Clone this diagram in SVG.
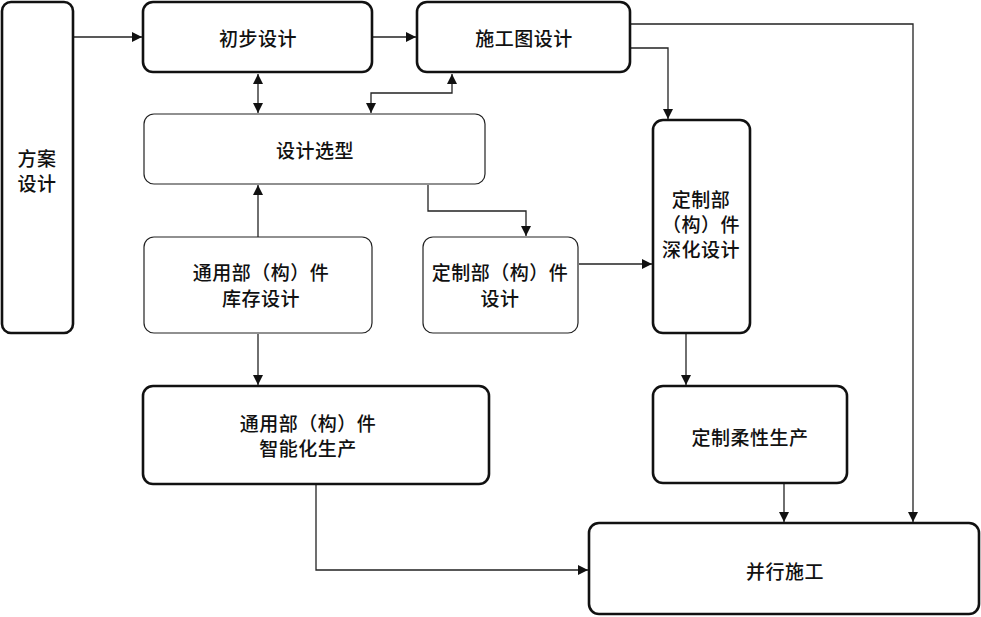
<svg xmlns="http://www.w3.org/2000/svg" width="981" height="617" viewBox="0 0 981 617">
<style>
.thick{fill:#fff;stroke:#111;stroke-width:2.6}
.thin{fill:#fff;stroke:#222;stroke-width:1.2}
.t{font-family:"Noto Sans CJK SC","Noto Sans",sans-serif;font-size:19px;font-weight:500;letter-spacing:0.5px;fill:#111;text-anchor:middle;dominant-baseline:central}
.c{fill:none;stroke:#222;stroke-width:1.3}
</style>
<defs>
<marker id="ah" viewBox="0 0 10 10" refX="10" refY="5" markerWidth="11" markerHeight="10" markerUnits="userSpaceOnUse" orient="auto-start-reverse">
<path d="M0,0 L10,5 L0,10 Z" fill="#111"/>
</marker>
</defs>
<g id="connectors">
<line class="c" x1="74" y1="37" x2="142" y2="37" marker-end="url(#ah)"/>
<line class="c" x1="373" y1="37" x2="416" y2="37" marker-end="url(#ah)"/>
<line class="c" x1="258" y1="74" x2="258" y2="113" marker-start="url(#ah)" marker-end="url(#ah)"/>
<polyline class="c" points="371,113 371,93 452,93 452,74" marker-start="url(#ah)" marker-end="url(#ah)"/>
<line class="c" x1="258" y1="237" x2="258" y2="185" marker-end="url(#ah)"/>
<polyline class="c" points="428,185 428,211 526,211 526,236" marker-end="url(#ah)"/>
<polyline class="c" points="631,48 668,48 668,119" marker-end="url(#ah)"/>
<line class="c" x1="579" y1="264" x2="652" y2="264" marker-end="url(#ah)"/>
<line class="c" x1="686" y1="334" x2="686" y2="385" marker-end="url(#ah)"/>
<line class="c" x1="784" y1="484" x2="784" y2="522" marker-end="url(#ah)"/>
<polyline class="c" points="631,24 913,24 913,522" marker-end="url(#ah)"/>
<line class="c" x1="258" y1="334" x2="258" y2="385" marker-end="url(#ah)"/>
<polyline class="c" points="316,485 316,570 588,570" marker-end="url(#ah)"/>
</g>
<g id="fangan">
<rect class="thick" x="2" y="2" width="71" height="331" rx="9"/>
<text class="t" x="37" y="157">方案</text>
<text class="t" x="37" y="182">设计</text>
</g>
<g id="chubu">
<rect class="thick" x="143" y="2" width="229" height="70" rx="10"/>
<text class="t" x="258" y="37">初步设计</text>
</g>
<g id="shigongtu">
<rect class="thick" x="417" y="2" width="213" height="70" rx="10"/>
<text class="t" x="524" y="37">施工图设计</text>
</g>
<g id="xuanxing">
<rect class="thin" x="144" y="114" width="341" height="70" rx="10"/>
<text class="t" x="315" y="149">设计选型</text>
</g>
<g id="tongyong-kucun">
<rect class="thin" x="144" y="237" width="228" height="96" rx="10"/>
<text class="t" x="261" y="271">通用部（构）件</text>
<text class="t" x="261" y="297">库存设计</text>
</g>
<g id="dingzhi-sheji">
<rect class="thin" x="423" y="237" width="155" height="96" rx="10"/>
<text class="t" x="500" y="271">定制部（构）件</text>
<text class="t" x="500" y="297">设计</text>
</g>
<g id="shenhua">
<rect class="thick" x="653" y="120" width="97" height="213" rx="10"/>
<text class="t" x="701" y="198">定制部</text>
<text class="t" x="701" y="223">（构）件</text>
<text class="t" x="701" y="248">深化设计</text>
</g>
<g id="rouxing">
<rect class="thick" x="653" y="386" width="194" height="97" rx="10"/>
<text class="t" x="750" y="436">定制柔性生产</text>
</g>
<g id="zhineng">
<rect class="thick" x="143" y="386" width="346" height="98" rx="10"/>
<text class="t" x="308" y="422">通用部（构）件</text>
<text class="t" x="308" y="447">智能化生产</text>
</g>
<g id="bingxing">
<rect class="thick" x="589" y="523" width="390" height="91" rx="10"/>
<text class="t" x="785" y="570">并行施工</text>
</g>
</svg>
